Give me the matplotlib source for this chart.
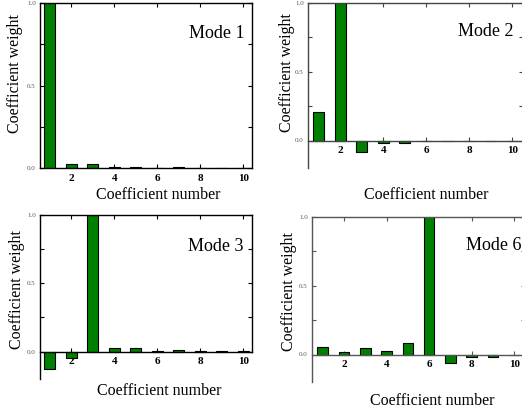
import numpy as np
import matplotlib
matplotlib.use("Agg")
import matplotlib.pyplot as plt
from matplotlib.ticker import FixedLocator

plt.rcParams['font.family'] = ['Liberation Serif', 'DejaVu Serif']

# data
coef = np.arange(1, 11)
mode1 = [1.0, 0.024, 0.024, 0.006, 0.006, 0.003, 0.004, 0.002, 0.001, 0.002]
mode2 = [0.21, 1.0, -0.085, -0.017, -0.017, -0.004, -0.004, -0.003, -0.003, -0.003]
mode3 = [-0.13, -0.046, 1.0, 0.03, 0.03, 0.008, 0.01, 0.003, 0.004, 0.002]
mode6 = [0.055, 0.015, 0.045, 0.022, 0.085, 1.0, -0.062, -0.018, -0.018, -0.005]
modes = [mode1, mode2, mode3, mode6]
names = ['Mode 1', 'Mode 2', 'Mode 3', 'Mode 6']

W, H = 522, 409

def box(l, t, r, b):
    return [l / W, 1 - b / H, (r - l) / W, (b - t) / H]

def fx(x):
    return x / W

def fy(y):
    return 1 - y / H

# panel boxes in pixels (left, top, right, bottom)
boxes = [(40, 3, 252, 168), (308, 3, 523, 168), (40, 215, 252, 379), (312, 217, 525, 382)]
xlims = [(0.55, 10.4), (0.5, 10.5), (0.55, 10.4), (0.5, 10.5)]
ylims = [(0, 1.0), (-0.2, 1.0), (-0.2, 1.0), (-0.2, 1.0)]
xlab_pos = [(158, 195), (426, 195), (159, 391), (432, 401)]
ylab_pos = [(15, 74), (287, 73), (17, 290), (289, 292)]
mode_pos = [(245, 33), (513, 32), (244, 247), (522, 245)]
spine_col = ['black', '#444444', 'black', '#555555']

fig = plt.figure(figsize=(W / 100, H / 100), dpi=100)

for i in range(4):
    ax = fig.add_axes(box(*boxes[i]))
    ax.bar(coef, modes[i], width=0.5, color='#008000', edgecolor='black', linewidth=0.8, zorder=2)
    ax.set_xlim(*xlims[i])
    ax.set_ylim(*ylims[i])

    for s in ax.spines.values():
        s.set_color(spine_col[i])
        s.set_linewidth(1.0)
    if i > 0:
        ax.spines['bottom'].set_position(('data', 0))
        ax.spines['right'].set_bounds(0, 1)

    ax.xaxis.set_major_locator(FixedLocator([2, 4, 6, 8, 10]))
    ax.yaxis.set_major_locator(FixedLocator([0.0, 0.5, 1.0]))
    ax.yaxis.set_minor_locator(FixedLocator([0.25, 0.75]))
    ax.tick_params(axis='x', direction='in', top=True, length=3, width=0.8,
                   labelsize=8, pad=4, color=spine_col[i])
    ax.tick_params(axis='y', which='both', direction='in', right=True, length=3,
                   width=0.8, labelsize=5, pad=3, labelcolor='#555555', color=spine_col[i])
    for lab in ax.get_xticklabels():
        lab.set_fontweight('bold')
    ax.set_yticklabels(['0.0', '0.5', '1.0'])

    ax.set_xlabel('Coefficient number', fontsize=11.5, va='center')
    ax.xaxis.set_label_coords(fx(xlab_pos[i][0]), fy(xlab_pos[i][1]), transform=fig.transFigure)
    ax.set_ylabel('Coefficient weight', fontsize=11.5, va='center')
    ax.yaxis.set_label_coords(fx(ylab_pos[i][0]), fy(ylab_pos[i][1]), transform=fig.transFigure)

    fig.text(fx(mode_pos[i][0]), fy(mode_pos[i][1]), names[i], fontsize=13,
             ha='right', va='center')

fig.savefig('out.png', dpi=100)
